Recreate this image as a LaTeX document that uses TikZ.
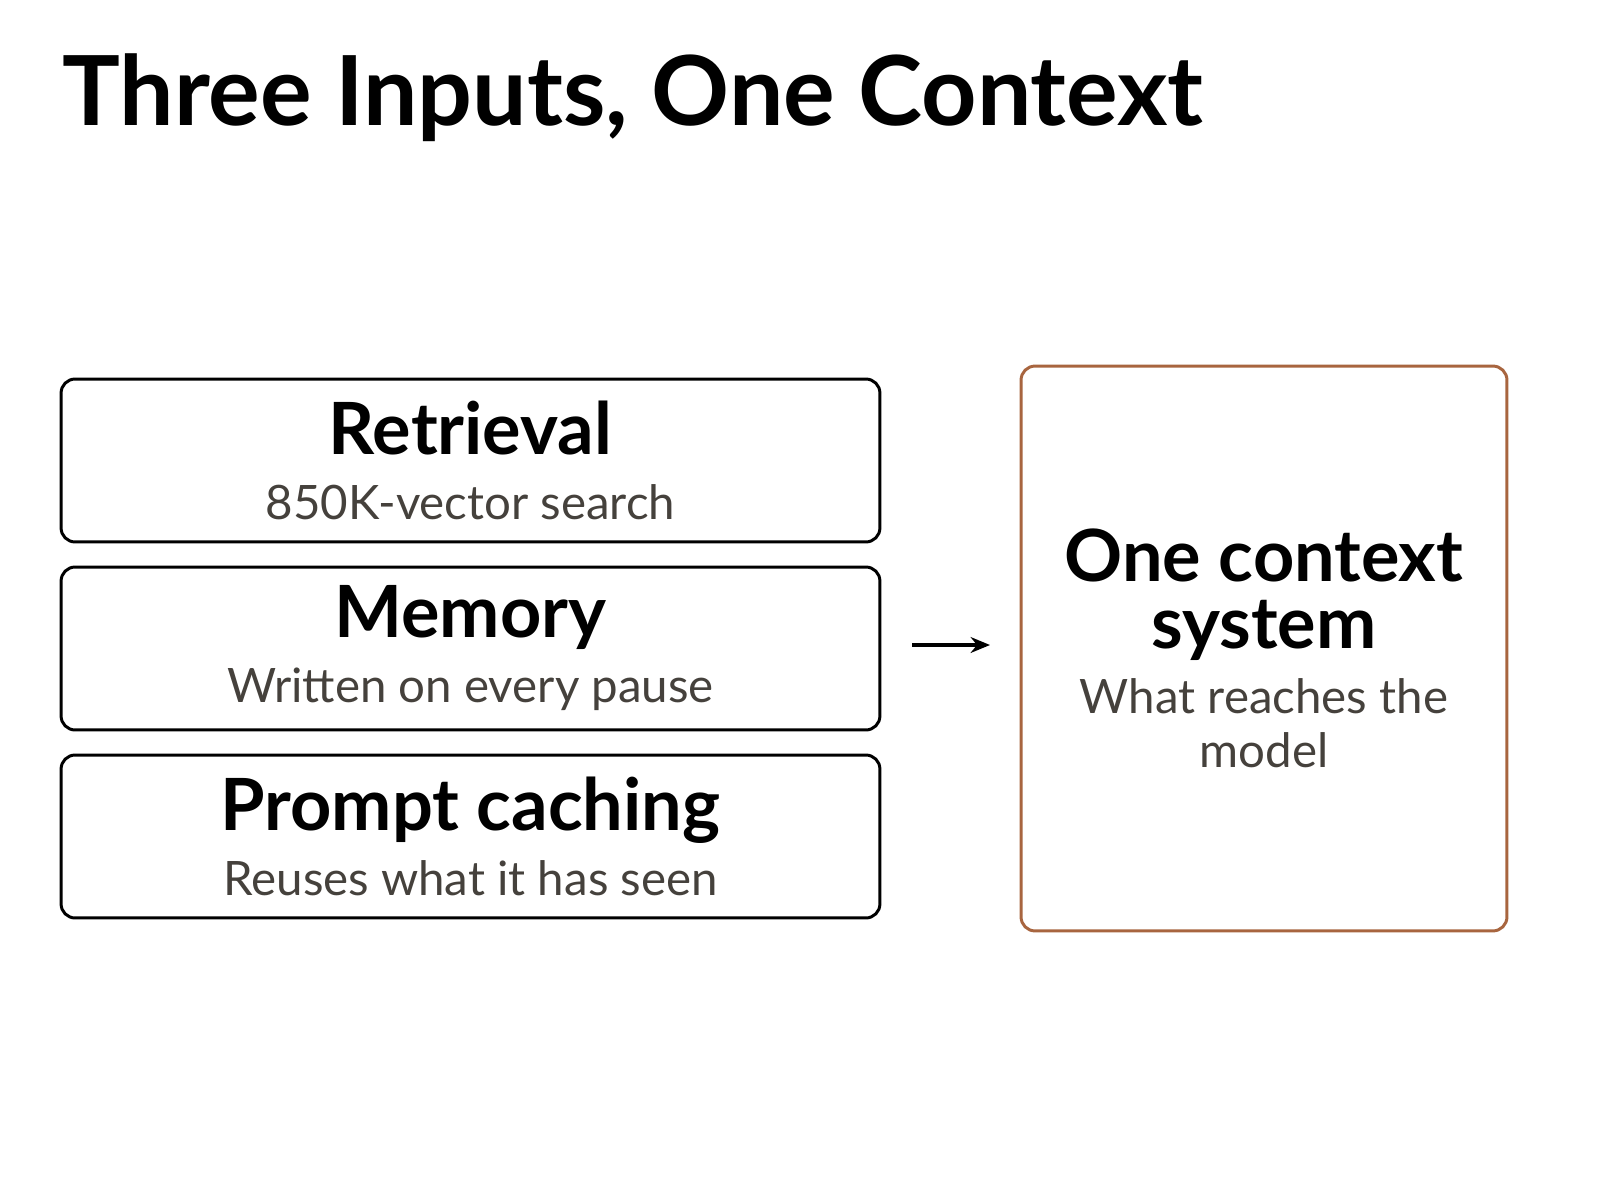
\documentclass[tikz,border=0pt]{standalone}
\usepackage{fontspec}
\setmainfont{Lato}
\usetikzlibrary{positioning,arrows.meta}
\definecolor{subgray}{HTML}{45413C}
\definecolor{rust}{HTML}{A8653F}
\tikzset{
  inbox/.style={draw=black,line width=1.7pt,rounded corners=8pt,minimum width=16.38cm,minimum height=3.26cm,align=center,font=\fontsize{27}{31}\selectfont},
  ctxbox/.style={draw=rust,line width=1.7pt,rounded corners=8pt,minimum width=9.72cm,minimum height=11.3cm,align=center,font=\fontsize{27}{31}\selectfont},
}
\newcommand{\hdtxt}[1]{{\fontsize{41}{31}\selectfont\bfseries #1}}
\newcommand{\subtxt}[1]{{\color{subgray}#1}}
\begin{document}
\begin{tikzpicture}[x=0.02cm,y=-0.02cm,>=stealth]
  \useasboundingbox (0,0) rectangle (1600,1200);
  \node[anchor=base west,inner sep=0pt] (title) at (62,125) {\fontsize{55}{60}\selectfont\bfseries Three Inputs, One Context};
  %
  \node[inbox] (ret) at (470.5,460.5) {\hdtxt{Retrieval}\\[6pt]\subtxt{850K-vector search}};
  \node[inbox] (mem) at (470.5,648.5) {\hdtxt{Memory}\\[6pt]\subtxt{Written on every pause}};
  \node[inbox] (cach) at (470.5,836.5) {\hdtxt{Prompt caching}\\[6pt]\subtxt{Reuses what it has seen}};
  %
  \node[ctxbox] (ctx) at (1264,648.5) {\hdtxt{One context}\\[7pt]\hdtxt{system}\\[6pt]\subtxt{What reaches the}\\\subtxt{model}};
  \coordinate (a1) at (912,645);
  \coordinate (a2) at (990,645);
  \draw[-{Stealth[length=11pt,width=9pt]},line width=1.8pt] (a1) -- (a2);
\end{tikzpicture}
\end{document}
